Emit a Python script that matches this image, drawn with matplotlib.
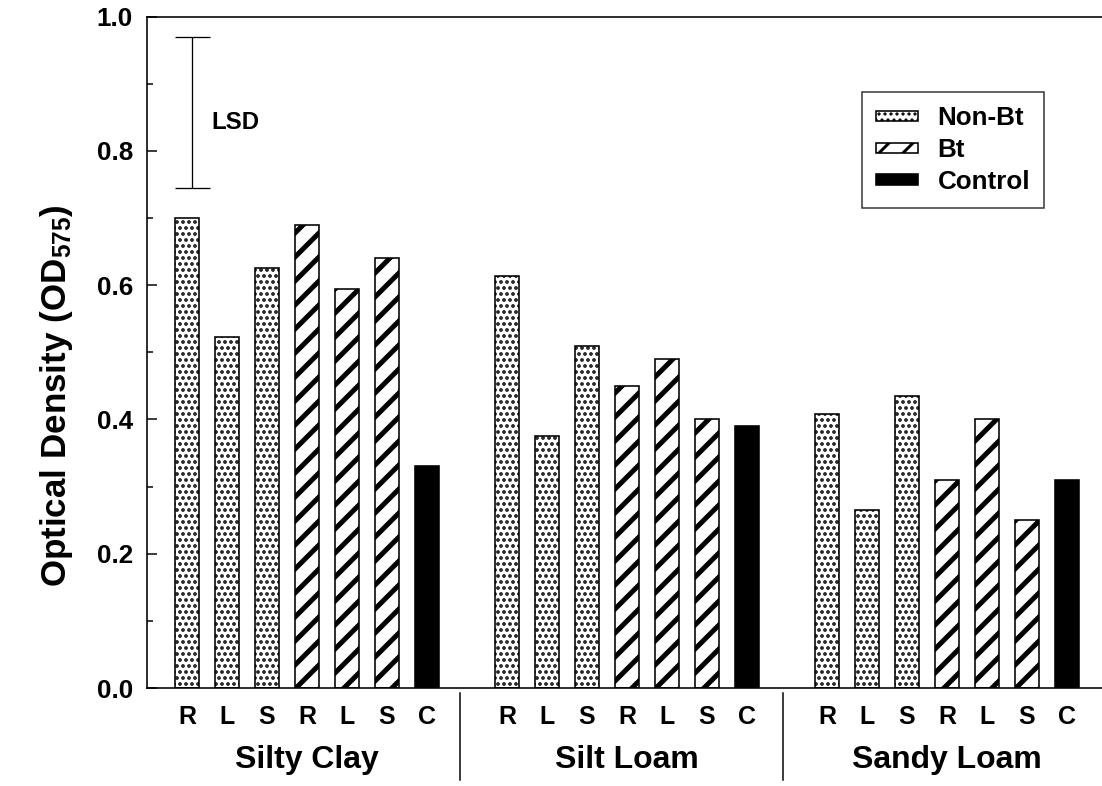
import numpy as np
import matplotlib
matplotlib.use("Agg")
import matplotlib.pyplot as plt

# soil types and treatments
soils = ["Silty Clay", "Silt Loam", "Sandy Loam"]
treat = ["R", "L", "S", "R", "L", "S", "C"]

# optical density per soil: Non-Bt (R, L, S), Bt (R, L, S), Control
nonbt = [[0.700, 0.522, 0.625],
         [0.613, 0.375, 0.510],
         [0.408, 0.265, 0.435]]
bt = [[0.690, 0.594, 0.640],
      [0.450, 0.490, 0.400],
      [0.310, 0.400, 0.250]]
control = [0.330, 0.390, 0.310]

lsd_y = 0.8575
lsd_err = 0.1125

plt.rcParams['font.family'] = ['Liberation Sans', 'DejaVu Sans']
plt.rcParams['font.weight'] = 'bold'
plt.rcParams['mathtext.fontset'] = 'custom'
plt.rcParams['mathtext.rm'] = 'Liberation Sans:bold'
plt.rcParams['mathtext.bf'] = 'Liberation Sans:bold'
plt.rcParams['mathtext.default'] = 'bf'

fig = plt.figure(figsize=(1102/72, 786/72), dpi=72)
ax = fig.add_axes([147/1102, 1-688/786, 1-147/1102, (688-16.5)/786])

DOT_LW = 2.4
STRIPE_LW = 5.0


def hatch_lw(patches, lw):
    for p in patches:
        if hasattr(p, 'set_hatch_linewidth'):
            p.set_hatch_linewidth(lw)


w = 0.6
xpos = []
for g in range(3):
    base = g * 8
    x_nb = base + np.arange(3)
    x_bt = base + 3 + np.arange(3)
    x_c = base + 6
    with plt.rc_context({'hatch.linewidth': DOT_LW}):
        b1 = ax.bar(x_nb, nonbt[g], w, color='white', edgecolor='black',
                    linewidth=1.6, hatch='..', label='Non-Bt' if g == 0 else None)
    with plt.rc_context({'hatch.linewidth': STRIPE_LW}):
        b2 = ax.bar(x_bt, bt[g], w, color='white', edgecolor='black',
                    linewidth=1.6, hatch='/', label='Bt' if g == 0 else None)
    ax.bar(x_c, control[g], w, color='black', edgecolor='black',
           linewidth=1.6, label='Control' if g == 0 else None)
    hatch_lw(b1, DOT_LW)
    hatch_lw(b2, STRIPE_LW)
    xpos += list(x_nb) + list(x_bt) + [x_c]

# LSD bar
ax.errorbar([0.125], [lsd_y], yerr=[lsd_err], color='black', lw=1.3,
            capsize=17.5, capthick=1.3)
ax.text(0.62, 0.842, "LSD", fontsize=24, fontweight='bold', va='center')

ax.set_xlim(-1.0, 22.875)
ax.set_ylim(0, 1.0)
ax.set_yticks(np.arange(0, 1.01, 0.2))
ax.set_yticks(np.arange(0.1, 1.0, 0.2), minor=True)
ax.set_yticklabels([f"{v:.1f}" for v in np.arange(0, 1.01, 0.2)])
ax.set_xticks(xpos)
ax.set_xticklabels(treat * 3)
ax.tick_params(axis='y', which='major', direction='in', length=10, width=1.5,
               pad=14, labelsize=26)
ax.tick_params(axis='y', which='minor', direction='in', length=6, width=1.5)
ax.tick_params(axis='x', length=0, pad=17, labelsize=25)

ax.spines['right'].set_visible(False)
for s in ['left', 'top', 'bottom']:
    ax.spines[s].set_linewidth(1.6)

# group labels and separators
for g, name in enumerate(soils):
    ax.text(g * 8 + 3, -0.107, name, fontsize=32, fontweight='bold',
            ha='center', va='center', transform=ax.get_xaxis_transform())
for xs in [6.83, 14.9]:
    ax.plot([xs, xs], [-0.007, -0.137], color='black', lw=1.5,
            transform=ax.get_xaxis_transform(), clip_on=False)

ax.set_ylabel("Optical Density (OD$_{575}$)", fontsize=35, fontweight='bold')
ax.yaxis.set_label_coords(-0.0754, 0.436)

with plt.rc_context({'hatch.linewidth': 2.0}):
    leg = ax.legend(loc='upper left', bbox_to_anchor=(862/1102, 1-92/786),
                    bbox_transform=fig.transFigure, fontsize=26, frameon=True,
                    fancybox=False, borderaxespad=0, handlelength=1.6,
                    handleheight=0.22, handletextpad=0.75, borderpad=0.55,
                    labelspacing=0.3)
leg.get_frame().set_edgecolor('black')
leg.get_frame().set_linewidth(1.5)
hnd = leg.legend_handles
hatch_lw(hnd[:1], 2.0)
hatch_lw(hnd[1:2], 3.0)

fig.savefig("out.png", dpi=72)
